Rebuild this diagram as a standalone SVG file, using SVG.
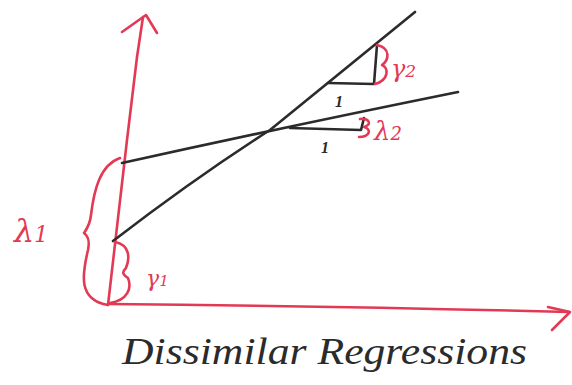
<svg xmlns="http://www.w3.org/2000/svg" width="572" height="385" viewBox="0 0 572 385">
<style>
.r{fill:none;stroke:#e23a55;stroke-width:2.6;stroke-linecap:round;stroke-linejoin:round}
.k{fill:none;stroke:#2b2b2b;stroke-width:2.6;stroke-linecap:round;stroke-linejoin:round}
.rt{fill:#e23a55;font-family:"DejaVu Serif","Liberation Serif",serif;font-style:italic}
.kt{fill:#2b2b2b;font-family:"Liberation Serif",serif;font-style:italic}
.b{font-weight:bold}
</style>
<rect width="572" height="385" fill="#ffffff"/>
<g id="axes">
<path class="r" d="M108,305 L127,140 L137,57 L143,17"/>
<path class="r" d="M122,32 L146,15 L157,33"/>
<path class="r" d="M108,304 Q330,306 569,312"/>
<path class="r" d="M548,307 L570,312 L552,330"/>
</g>
<g id="lines">
<path class="k" d="M113,241 Q195,178 270,130 L415,12"/>
<path class="k" d="M122,163 Q280,128 458,92"/>
<path class="k" d="M328,83 L374,84 L377,45"/>
<path class="k" d="M290,128 L361,130 L364,118"/>
</g>
<g id="braces">
<path class="r" d="M120,158 C100,165 94,190 91,215 C90,225 86,230 84,233 C88,236 90,240 88,250 C82,275 78,300 108,305"/>
<path class="r" d="M115,242 C130,245 130,258 126,268 C122,272 122,274 128,278 C132,288 128,300 110,303"/>
<path class="r" d="M377,45 C391,48 389,60 382,65 C389,68 389,80 375,84"/>
<path class="r" d="M360,119 C370,118 372,125 364,127 C372,129 370,137 359,137"/>
</g>
<g id="labels">
<text class="rt" x="14" y="242" font-size="32">λ<tspan font-size="22">1</tspan></text>
<text class="rt" x="146" y="286" font-size="22">γ<tspan font-size="15">1</tspan></text>
<text class="rt" x="391" y="77" font-size="24">γ<tspan font-size="17">2</tspan></text>
<text class="rt" x="374" y="140" font-size="26">λ<tspan font-size="18">2</tspan></text>
<text class="kt b" x="335" y="107" font-size="16">1</text>
<text class="kt b" x="321" y="153" font-size="16">1</text>
<text class="kt" x="122" y="364" font-size="38" textLength="405" lengthAdjust="spacingAndGlyphs">Dissimilar Regressions</text>
</g>
</svg>
